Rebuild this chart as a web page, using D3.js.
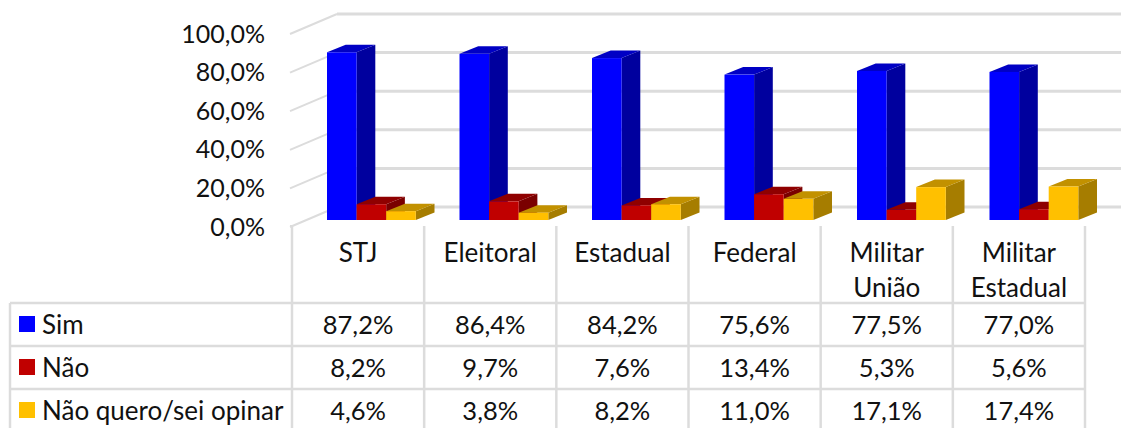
<!DOCTYPE html>
<html><head><meta charset="utf-8">
<script src="https://cdn.jsdelivr.net/npm/d3@7"></script>
<style>html,body{margin:0;padding:0;background:#fff;overflow:hidden}svg{display:block}text{font-family:Lato,sans-serif;fill:#111}</style>
</head><body><svg id="c" width="1121" height="428"></svg>
<script>
const categories=[["STJ"],["Eleitoral"],["Estadual"],["Federal"],["Militar","União"],["Militar","Estadual"]];
const seriesNames=["Sim","Não","Não quero/sei opinar"];
const sim=[87.2,86.4,84.2,75.6,77.5,77.0];
const nao=[8.2,9.7,7.6,13.4,5.3,5.6];
const naoQuero=[4.6,3.8,8.2,11.0,17.1,17.4];
const yTicks=[0,20,40,60,80,100];
const seriesValues=[sim,nao,naoQuero];
const colors=[{front:"#0000ff",top:"#0000c4",side:"#00009e"},{front:"#c00000",top:"#8f0000",side:"#7a0000"},{front:"#ffc000",top:"#c29100",side:"#a67d00"}];
const fmt=v=>v.toFixed(1).replace(".",",")+"%";
const svg=d3.select("#c");
const grid="#dcdcdc";
const col=d3.scaleBand().domain(d3.range(6)).range([292,1085]).padding(0);
const barCol=d3.scaleBand().domain(d3.range(6)).range([327,1122]).padding(0);
const h=d3.scaleLinear().domain([0,100]).range([0,192.3]);
const wallY=d3.scaleLinear().domain([0,100]).range([227,34]);
const wallDx=47,wallDy=-20,barDx=18.7,barDy=-7.5,barW=29.6,baseY=220;
const line=(x1,y1,x2,y2,w=2.5)=>svg.append("line").attr("x1",x1).attr("y1",y1).attr("x2",x2).attr("y2",y2).attr("stroke",grid).attr("stroke-width",w);
yTicks.forEach(t=>{
  const y=wallY(t);
  line(290,y,290+wallDx,y+wallDy,2);
  line(290+wallDx,y+wallDy,1121,y+wallDy,3);
  svg.append("text").attr("x",265).attr("y",y+8.5).attr("text-anchor","end").attr("font-size",25).text(fmt(t));
});
categories.forEach((c,i)=>{
  const x0=barCol(i);
  seriesValues.forEach((vals,s)=>{
    const x=x0+s*barW,H=h(vals[i]),top=baseY-H,k=colors[s];
    svg.append("path").attr("fill",k.side).attr("d",`M${x+barW},${baseY}L${x+barW+barDx},${baseY+barDy}L${x+barW+barDx},${top+barDy}L${x+barW},${top}Z`);
    svg.append("path").attr("fill",k.top).attr("d",`M${x},${top}L${x+barDx},${top+barDy}L${x+barW+barDx},${top+barDy}L${x+barW},${top}Z`);
    svg.append("rect").attr("x",x).attr("y",top).attr("width",barW).attr("height",H).attr("fill",k.front);
  });
});
const rows=[303,346,389,432];
d3.range(7).forEach(i=>{const x=col.range()[0]+i*col.bandwidth();line(x,226,x,428);});
line(292,226,290,226,2);
rows.forEach(y=>line(10,y,1085,y));
line(10,303,10,428);
categories.forEach((c,i)=>{
  const x=col(i)+col.bandwidth()/2;
  c.forEach((t,j)=>svg.append("text").attr("x",x).attr("y",262+j*35).attr("text-anchor","middle").attr("font-size",26).text(t));
});
seriesNames.forEach((n,s)=>{
  const y=rows[s];
  svg.append("rect").attr("x",19).attr("y",y+13).attr("width",16).attr("height",16).attr("fill",colors[s].front);
  svg.append("text").attr("x",42).attr("y",y+30.5).attr("font-size",26).text(n);
  seriesValues[s].forEach((v,i)=>svg.append("text").attr("x",col(i)+col.bandwidth()/2).attr("y",y+30.5).attr("text-anchor","middle").attr("font-size",25.5).text(fmt(v)));
});
</script></body></html>
